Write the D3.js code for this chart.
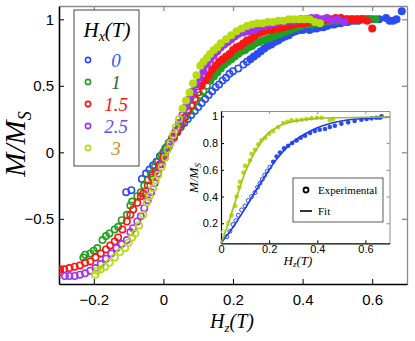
<!DOCTYPE html>
<html>
<head>
<meta charset="utf-8">
<script src="https://cdn.jsdelivr.net/npm/d3@7"></script>
<style>
  body { margin: 0; background: #fff; }
  svg { display: block; }
  .tick text { font-family: "Liberation Sans", Arial, sans-serif; fill: #000; }
  .serif { font-family: "Liberation Serif", "Times New Roman", serif; }
</style>
</head>
<body>
<svg id="chart"></svg>
<script>
// ---- data ----
const fieldLabels = ["0", "1", "1.5", "2.5", "3"];

// each field: open circles (one sweep) and filled dots (other sweep), [Hz, M/Ms]
const hx0Open = [[-0.107,-0.30],[-0.092,-0.285],[-0.062,-0.20],[-0.05,-0.16],[-0.04,-0.13],[-0.03,-0.10],[-0.02,-0.07],[-0.01,-0.03],[0,0],[0.01,0.04],[0.02,0.08],[0.03,0.12],[0.04,0.15],[0.05,0.19],[0.06,0.22],[0.07,0.25],[0.08,0.28],[0.09,0.31],[0.10,0.34],[0.11,0.37],[0.12,0.40],[0.13,0.43],[0.14,0.46],[0.15,0.49],[0.16,0.51],[0.17,0.54],[0.18,0.56],[0.19,0.59],[0.20,0.61],[0.215,0.63],[0.23,0.66],[0.24,0.68]];
const hx0Filled = [[0.25,0.70],[0.26,0.72],[0.27,0.74],[0.28,0.76],[0.29,0.78],[0.30,0.80],[0.31,0.81],[0.32,0.83],[0.33,0.84],[0.34,0.86],[0.35,0.87],[0.36,0.88],[0.37,0.90],[0.38,0.91],[0.39,0.92],[0.40,0.92],[0.41,0.93],[0.42,0.92],[0.43,0.93],[0.44,0.93],[0.45,0.94],[0.46,0.94],[0.47,0.95],[0.48,0.96],[0.49,0.96],[0.50,0.97],[0.51,0.97],[0.52,0.98],[0.53,0.98],[0.54,0.99],[0.55,0.99],[0.56,0.99],[0.57,1.0],[0.58,1.0],[0.59,1.0],[0.60,1.0],[0.62,1.0],[0.64,1.01],[0.65,0.99],[0.66,0.99],[0.67,1.0],[0.685,1.06]];

const hx1Open = [[-0.23,-0.79],[-0.225,-0.77],[-0.21,-0.76],[-0.20,-0.74],[-0.19,-0.72],[-0.175,-0.66],[-0.165,-0.63],[-0.155,-0.61],[-0.14,-0.58],[-0.13,-0.56],[-0.12,-0.51],[-0.105,-0.47],[-0.095,-0.40],[-0.09,-0.37],[-0.075,-0.33],[-0.065,-0.30],[-0.055,-0.25],[-0.045,-0.21],[-0.035,-0.16],[-0.025,-0.11],[-0.015,-0.07],[-0.005,-0.02],[0.005,0.03],[0.015,0.07],[0.025,0.11],[0.035,0.15],[0.045,0.19],[0.055,0.23],[0.065,0.27],[0.075,0.31],[0.085,0.35],[0.095,0.39],[0.105,0.43],[0.115,0.46],[0.125,0.50]];
const hx1Filled = [[0.135,0.54],[0.145,0.57],[0.155,0.60],[0.165,0.63],[0.175,0.66],[0.185,0.68],[0.195,0.70],[0.205,0.72],[0.215,0.74],[0.225,0.76],[0.235,0.77],[0.245,0.79],[0.255,0.80],[0.265,0.82],[0.275,0.83],[0.285,0.84],[0.295,0.85],[0.305,0.86],[0.315,0.87],[0.325,0.88],[0.335,0.89],[0.345,0.90],[0.355,0.91],[0.365,0.92],[0.375,0.93],[0.385,0.94],[0.395,0.95],[0.41,0.96],[0.425,0.96],[0.44,0.97],[0.455,0.98],[0.47,0.98],[0.485,0.99],[0.50,0.99],[0.515,1.0],[0.53,1.0],[0.545,1.0],[0.56,1.0],[0.575,1.0],[0.59,1.0],[0.61,1.0]];

const hx15Open = [[-0.297,-0.90],[-0.297,-0.88],[-0.285,-0.88],[-0.27,-0.87],[-0.255,-0.86],[-0.24,-0.85],[-0.225,-0.83],[-0.21,-0.82],[-0.195,-0.79],[-0.18,-0.76],[-0.165,-0.73],[-0.153,-0.70],[-0.14,-0.67],[-0.13,-0.64],[-0.118,-0.58],[-0.105,-0.52],[-0.095,-0.47],[-0.087,-0.43],[-0.075,-0.38],[-0.065,-0.33],[-0.058,-0.31],[-0.045,-0.25],[-0.033,-0.19],[-0.022,-0.14],[-0.01,-0.09],[0.0,-0.03],[0.01,0.02],[0.02,0.07],[0.03,0.11],[0.04,0.16],[0.05,0.21],[0.06,0.26],[0.07,0.31],[0.08,0.35],[0.09,0.40],[0.10,0.45]];
const hx15Filled = [[0.11,0.50],[0.12,0.54],[0.13,0.58],[0.14,0.62],[0.15,0.65],[0.16,0.68],[0.17,0.70],[0.18,0.72],[0.19,0.74],[0.20,0.77],[0.21,0.79],[0.22,0.80],[0.23,0.82],[0.24,0.84],[0.25,0.85],[0.26,0.87],[0.27,0.89],[0.28,0.90],[0.29,0.91],[0.30,0.92],[0.31,0.92],[0.32,0.93],[0.33,0.93],[0.345,0.94],[0.36,0.95],[0.375,0.96],[0.39,0.97],[0.405,0.97],[0.42,0.98],[0.435,0.99],[0.45,0.99],[0.465,1.0],[0.48,1.0],[0.495,1.01],[0.51,1.01],[0.525,1.0],[0.54,1.0],[0.555,1.0],[0.57,1.0],[0.585,0.99],[0.60,0.93]];

const hx25Open = [[-0.283,-0.93],[-0.27,-0.93],[-0.255,-0.93],[-0.24,-0.92],[-0.225,-0.91],[-0.21,-0.89],[-0.195,-0.87],[-0.18,-0.84],[-0.165,-0.80],[-0.15,-0.76],[-0.135,-0.72],[-0.12,-0.69],[-0.105,-0.66],[-0.095,-0.60],[-0.087,-0.57],[-0.075,-0.52],[-0.065,-0.48],[-0.055,-0.42],[-0.045,-0.36],[-0.035,-0.30],[-0.025,-0.23],[-0.015,-0.16],[-0.005,-0.09],[0.005,-0.02],[0.015,0.04],[0.025,0.10],[0.035,0.16],[0.045,0.22],[0.055,0.28]];
const hx25Filled = [[0.065,0.34],[0.075,0.40],[0.085,0.46],[0.095,0.51],[0.105,0.56],[0.115,0.61],[0.125,0.66],[0.135,0.70],[0.145,0.73],[0.155,0.76],[0.165,0.79],[0.175,0.81],[0.185,0.83],[0.195,0.85],[0.205,0.87],[0.215,0.89],[0.23,0.90],[0.245,0.91],[0.26,0.92],[0.275,0.94],[0.29,0.95],[0.305,0.96],[0.32,0.97],[0.335,0.98],[0.35,0.98],[0.365,0.99],[0.38,0.99],[0.395,1.0],[0.41,1.0],[0.425,1.01],[0.44,1.01],[0.455,1.0],[0.47,1.01],[0.485,0.99],[0.50,1.0],[0.52,0.98]];

const hx3Open = [[-0.196,-0.92],[-0.19,-0.89],[-0.18,-0.88],[-0.168,-0.86],[-0.155,-0.83],[-0.14,-0.79],[-0.125,-0.75],[-0.11,-0.72],[-0.10,-0.68],[-0.09,-0.64],[-0.081,-0.61],[-0.07,-0.55],[-0.058,-0.47],[-0.048,-0.38],[-0.04,-0.33],[-0.03,-0.27],[-0.022,-0.21],[-0.015,-0.17],[-0.005,-0.11],[0.005,-0.04],[0.012,0.02],[0.02,0.07],[0.028,0.13],[0.036,0.19],[0.045,0.25]];
const hx3Filled = [[0.055,0.33],[0.065,0.39],[0.075,0.45],[0.085,0.52],[0.095,0.58],[0.106,0.65],[0.115,0.68],[0.125,0.71],[0.134,0.74],[0.145,0.77],[0.155,0.79],[0.165,0.82],[0.18,0.85],[0.195,0.88],[0.21,0.91],[0.225,0.93],[0.24,0.95],[0.255,0.96],[0.27,0.97],[0.285,0.97],[0.30,0.98],[0.315,0.98],[0.33,0.99],[0.345,0.99],[0.36,1.0],[0.375,1.0],[0.39,1.0],[0.405,1.0],[0.42,1.0],[0.435,0.98],[0.45,0.97]];

// inset: Hx = 0 and Hx = 3, experimental points and fits
const insetHx0Open = [[0.024,0.10],[0.037,0.14],[0.051,0.19],[0.062,0.22],[0.072,0.26],[0.086,0.30],[0.10,0.33],[0.113,0.37],[0.127,0.40],[0.141,0.43],[0.152,0.47],[0.162,0.50],[0.172,0.53],[0.182,0.56],[0.192,0.59],[0.203,0.62]];
const insetHx0Filled = [[0.217,0.66],[0.231,0.70],[0.245,0.73],[0.262,0.76],[0.279,0.78],[0.296,0.80],[0.314,0.82],[0.331,0.84],[0.349,0.855],[0.37,0.875],[0.39,0.89],[0.41,0.90],[0.432,0.905],[0.452,0.92],[0.473,0.93],[0.50,0.945],[0.528,0.955],[0.555,0.965],[0.583,0.975],[0.605,0.98],[0.625,0.985],[0.645,0.99],[0.66,0.99],[0.667,1.0]];
const insetHx3Open = [[0.0095,0.136],[0.030,0.20]];
const insetHx3Filled = [[0.044,0.26],[0.058,0.33],[0.065,0.40],[0.076,0.47],[0.079,0.51],[0.093,0.58],[0.10,0.63],[0.12,0.67],[0.127,0.72],[0.141,0.75],[0.155,0.79],[0.168,0.82],[0.183,0.84],[0.20,0.87],[0.217,0.89],[0.238,0.92],[0.259,0.95],[0.276,0.96],[0.293,0.97],[0.315,0.97],[0.335,0.975],[0.355,0.98],[0.376,0.985],[0.398,0.99],[0.418,0.99],[0.452,0.97],[0.465,0.98]];
const fitHx0 = [[0,0.05],[0.025,0.11],[0.05,0.17],[0.075,0.24],[0.1,0.31],[0.125,0.385],[0.15,0.46],[0.175,0.53],[0.2,0.60],[0.225,0.665],[0.25,0.72],[0.275,0.77],[0.3,0.81],[0.35,0.87],[0.4,0.915],[0.45,0.945],[0.5,0.965],[0.55,0.978],[0.6,0.985],[0.65,0.99],[0.7,0.993]];
const fitHx3 = [[0,0.05],[0.025,0.17],[0.05,0.31],[0.075,0.45],[0.1,0.58],[0.125,0.68],[0.15,0.76],[0.175,0.83],[0.2,0.88],[0.225,0.91],[0.25,0.935],[0.3,0.962],[0.35,0.977],[0.4,0.985],[0.5,0.99],[0.6,0.993],[0.7,0.995]];

const mainXTicks = [-0.2, 0, 0.2, 0.4, 0.6];
const mainYTicks = [-0.5, 0, 0.5, 1];
const insetXTicks = [0, 0.2, 0.4, 0.6];
const insetYTicks = [0.2, 0.4, 0.6, 0.8, 1];

// ---- styling ----
const markerColors = ["#2a4cf2", "#22a01e", "#ff1414", "#a034f2", "#b4dc10"];
const textColors = ["#2f55ff", "#1f6b1f", "#ff1010", "#6a4cf0", "#c4921c"];
const fitColors = { hx0: "#1e3cf0", hx3: "#9cc21c" };

const series = fieldLabels.map((label, i) => ({
    label,
    open: [hx0Open, hx1Open, hx15Open, hx25Open, hx3Open][i],
    filled: [hx0Filled, hx1Filled, hx15Filled, hx25Filled, hx3Filled][i],
    color: markerColors[i],
    textColor: textColors[i]
}));

const W = 415, H = 341;
const fmt = d3.format("");

const svg = d3.select("#chart").attr("width", W).attr("height", H);

// main plot frame (pixel box of the axes)
const box = { left: 59, right: 407, top: 6, bottom: 284 };
const x = d3.scaleLinear().domain([-0.3, 0.7]).range([box.left, box.right]);
const y = d3.scaleLinear().domain([-0.99, 1.1]).range([box.bottom, box.top]);

svg.append("defs").append("clipPath").attr("id", "mainClip")
    .append("rect")
    .attr("x", box.left).attr("y", box.top)
    .attr("width", box.right - box.left).attr("height", box.bottom - box.top);

// gray top/right axes with inward ticks
const topAxis = svg.append("g")
    .attr("transform", `translate(0,${box.top})`)
    .call(d3.axisTop(x).tickValues(mainXTicks).tickSize(-5).tickSizeOuter(0).tickFormat(""));
const rightAxis = svg.append("g")
    .attr("transform", `translate(${box.right},0)`)
    .call(d3.axisRight(y).tickValues(mainYTicks).tickSize(-5).tickSizeOuter(0).tickFormat(""));
[topAxis, rightAxis].forEach(g => {
    g.selectAll("path, line").attr("stroke", "#8c8c8c").attr("stroke-width", 1.3);
});

// black bottom/left axes
const xAxisG = svg.append("g")
    .attr("transform", `translate(0,${box.bottom})`)
    .call(d3.axisBottom(x).tickValues(mainXTicks).tickSize(-5).tickSizeOuter(0).tickPadding(10).tickFormat(fmt));
const yAxisG = svg.append("g")
    .attr("transform", `translate(${box.left},0)`)
    .call(d3.axisLeft(y).tickValues(mainYTicks).tickSize(-5).tickSizeOuter(0).tickPadding(5).tickFormat(fmt));
[xAxisG, yAxisG].forEach(g => {
    g.select(".domain").attr("stroke", "#000").attr("stroke-width", 1.6);
    g.selectAll(".tick line").attr("stroke", "#000");
    g.selectAll(".tick text").style("font-size", "15px");
});

// data points
const plot = svg.append("g").attr("clip-path", "url(#mainClip)");
series.forEach(s => {
    const g = plot.append("g");
    g.selectAll(".open").data(s.open).join("circle")
        .attr("class", "open")
        .attr("cx", d => x(d[0])).attr("cy", d => y(d[1]))
        .attr("r", 3.2)
        .attr("fill", "none").attr("stroke", s.color).attr("stroke-width", 1.6);
    g.selectAll(".filled").data(s.filled).join("circle")
        .attr("class", "filled")
        .attr("cx", d => x(d[0])).attr("cy", d => y(d[1]))
        .attr("r", 4)
        .attr("fill", s.color);
});

// axis titles
const yTitle = svg.append("text").attr("class", "serif")
    .attr("transform", "translate(25,144) rotate(-90)")
    .attr("text-anchor", "middle")
    .style("font-style", "italic").style("font-size", "29px");
yTitle.append("tspan").text("M/M");
yTitle.append("tspan").attr("dy", 6).style("font-size", "18px").text("S");

const xTitle = svg.append("text").attr("class", "serif")
    .attr("x", 232).attr("y", 328)
    .attr("text-anchor", "middle")
    .style("font-style", "italic").style("font-size", "20px");
xTitle.append("tspan").text("H");
xTitle.append("tspan").attr("dy", 4).style("font-size", "13px").text("z");
xTitle.append("tspan").attr("dy", -4).text("(T)");

// legend
const legend = svg.append("g");
legend.append("rect")
    .attr("x", 74).attr("y", 10).attr("width", 65).attr("height", 156)
    .attr("fill", "#fff").attr("stroke", "#444").attr("stroke-width", 1);
const lTitle = legend.append("text").attr("class", "serif")
    .attr("x", 107).attr("y", 37).attr("text-anchor", "middle")
    .style("font-style", "italic").style("font-size", "21px");
lTitle.append("tspan").text("H");
lTitle.append("tspan").attr("dy", 4).style("font-size", "14px").text("x");
lTitle.append("tspan").attr("dy", -4).text("(T)");

const items = legend.selectAll(".item").data(series).join("g")
    .attr("class", "item")
    .attr("transform", (d, i) => `translate(0,${60 + i * 22})`);
items.append("circle")
    .attr("cx", 88).attr("cy", 0).attr("r", 2.6)
    .attr("fill", "none").attr("stroke", d => d.color).attr("stroke-width", 1.6);
items.append("text").attr("class", "serif")
    .attr("x", 116).attr("y", 7).attr("text-anchor", "middle")
    .style("font-style", "italic").style("font-size", "19px")
    .attr("fill", d => d.textColor)
    .text(d => d.label);

// ---- inset ----
const ib = { left: 221, right: 389.5, top: 111, bottom: 243.3 };
const ix = d3.scaleLinear().domain([0, 0.7]).range([ib.left, ib.right]);
const iy = d3.scaleLinear().domain([0.05, 1.04]).range([ib.bottom, ib.top]);

const inset = svg.append("g");
inset.append("rect")
    .attr("x", ib.left).attr("y", ib.top)
    .attr("width", ib.right - ib.left).attr("height", ib.bottom - ib.top)
    .attr("fill", "#fff");

const iTop = inset.append("g").attr("transform", `translate(0,${ib.top})`)
    .call(d3.axisTop(ix).tickValues(insetXTicks).tickSize(-3).tickSizeOuter(0).tickFormat(""));
const iRight = inset.append("g").attr("transform", `translate(${ib.right},0)`)
    .call(d3.axisRight(iy).tickValues(insetYTicks).tickSize(-3).tickSizeOuter(0).tickFormat(""));
[iTop, iRight].forEach(g => g.selectAll("path, line").attr("stroke", "#8c8c8c"));

const iX = inset.append("g").attr("transform", `translate(0,${ib.bottom})`)
    .call(d3.axisBottom(ix).tickValues(insetXTicks).tickSize(-3).tickSizeOuter(0).tickPadding(2).tickFormat(fmt));
const iY = inset.append("g").attr("transform", `translate(${ib.left},0)`)
    .call(d3.axisLeft(iy).tickValues(insetYTicks).tickSize(-3).tickSizeOuter(0).tickPadding(3).tickFormat(fmt));
[iX, iY].forEach(g => {
    g.select(".domain").attr("stroke", "#000").attr("stroke-width", 1.2);
    g.selectAll(".tick text").style("font-size", "11px");
});

const line = d3.line().x(d => ix(d[0])).y(d => iy(d[1])).curve(d3.curveMonotoneX);
const insetSets = [
    { open: insetHx0Open, filled: insetHx0Filled, fit: fitHx0, color: markerColors[0], fitColor: fitColors.hx0 },
    { open: insetHx3Open, filled: insetHx3Filled, fit: fitHx3, color: markerColors[4], fitColor: fitColors.hx3 }
];
insetSets.forEach(s => {
    const g = inset.append("g");
    g.selectAll(".open").data(s.open).join("circle")
        .attr("class", "open")
        .attr("cx", d => ix(d[0])).attr("cy", d => iy(d[1]))
        .attr("r", 2).attr("fill", "none").attr("stroke", s.color).attr("stroke-width", 1);
    g.selectAll(".filled").data(s.filled).join("circle")
        .attr("class", "filled")
        .attr("cx", d => ix(d[0])).attr("cy", d => iy(d[1]))
        .attr("r", 2.3).attr("fill", s.color);
    g.append("path").datum(s.fit)
        .attr("d", line).attr("fill", "none")
        .attr("stroke", s.fitColor).attr("stroke-width", 1.6);
});

const iyTitle = inset.append("text").attr("class", "serif")
    .attr("transform", "translate(198,178) rotate(-90)")
    .attr("text-anchor", "middle")
    .style("font-style", "italic").style("font-size", "13px");
iyTitle.append("tspan").text("M/M");
iyTitle.append("tspan").attr("dy", 3).style("font-size", "9px").text("S");

const ixTitle = inset.append("text").attr("class", "serif")
    .attr("x", 298).attr("y", 265).attr("text-anchor", "middle")
    .style("font-style", "italic").style("font-size", "13px");
ixTitle.append("tspan").text("H");
ixTitle.append("tspan").attr("dy", 2).style("font-size", "9px").text("z");
ixTitle.append("tspan").attr("dy", -2).text("(T)");

// inset legend
const il = inset.append("g");
il.append("rect")
    .attr("x", 293).attr("y", 178).attr("width", 90).attr("height", 44)
    .attr("fill", "#fff").attr("stroke", "#333").attr("stroke-width", 0.8);
il.append("circle").attr("cx", 306).attr("cy", 190).attr("r", 2.5)
    .attr("fill", "none").attr("stroke", "#000").attr("stroke-width", 1.8);
il.append("text").attr("class", "serif").attr("x", 318).attr("y", 194)
    .style("font-size", "11px").text("Experimental");
il.append("line").attr("x1", 300).attr("x2", 312).attr("y1", 211).attr("y2", 211)
    .attr("stroke", "#000").attr("stroke-width", 1.6);
il.append("text").attr("class", "serif").attr("x", 318).attr("y", 215)
    .style("font-size", "11px").text("Fit");
</script>
</body>
</html>
